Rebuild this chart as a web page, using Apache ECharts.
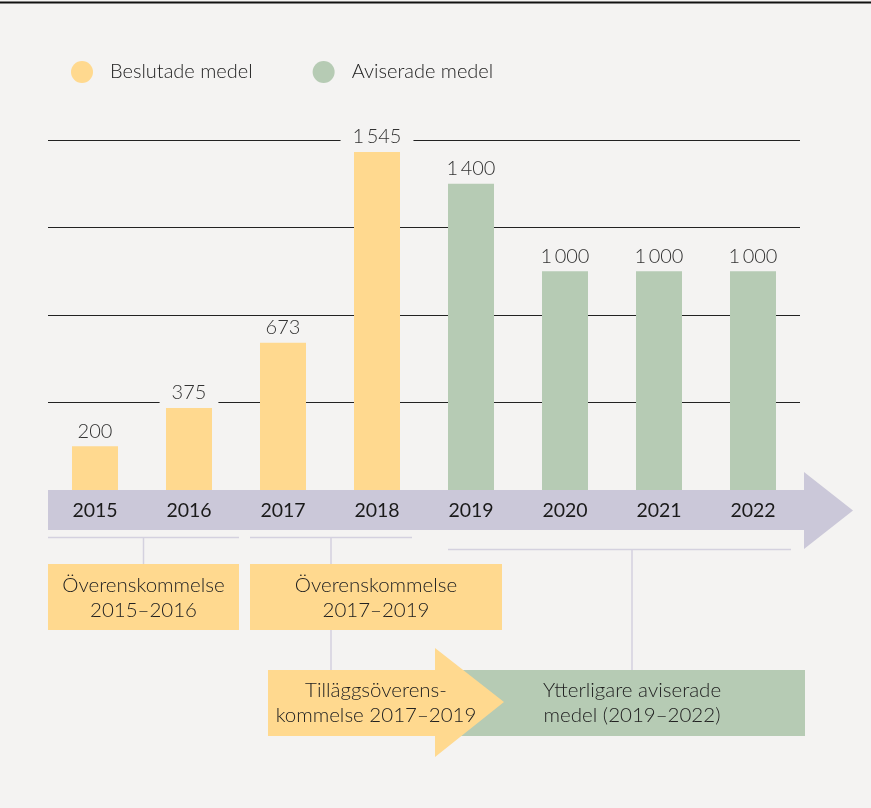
<!DOCTYPE html>
<html>
<head>
<meta charset="utf-8">
<script src="https://cdn.jsdelivr.net/npm/echarts@6/dist/echarts.min.js"></script>
<style>
html,body{margin:0;padding:0;background:#F4F3F2;}
#chart{width:871px;height:808px;}
</style>
</head>
<body>
<div id="chart"></div>
<script>
const years = ['2015','2016','2017','2018','2019','2020','2021','2022'];
const beslutade = [200, 375, 673, 1545, null, null, null, null];
const aviserade = [null, null, null, null, 1400, 1000, 1000, 1000];
const seriesNames = ['Beslutade medel', 'Aviserade medel'];
const yTicks = [0, 400, 800, 1200, 1600];

const BG = '#F4F3F2';
const YELLOW = '#FFD98F';
const GREEN = '#B6CBB4';
const LAV = '#CBC8D9';
const LINE = '#D4D1DF';
const FONT = 'Lato';
const TXT = '#222';

function fmt(v){
  const s = String(Math.round(v));
  return s.length > 3 ? s.slice(0, s.length-3) + '\u2009' + s.slice(-3) : s;
}

const labelCfg = {
  show: true, position: 'top', distance: 3,
  fontFamily: FONT, fontWeight: 300, fontSize: 20, color: '#333',
  backgroundColor: BG, padding: [0, 12, 2, 12],
  formatter: p => fmt(p.value)
};

const chart = echarts.init(document.getElementById('chart'), null, {renderer: 'canvas'});

const txtStyle = (t, x, y, extra) => Object.assign({
  type: 'text', z: 10,
  style: { text: t, x: x, y: y, fill: TXT, font: '300 20.5px ' + FONT,
    textAlign: 'center', textVerticalAlign: 'middle', lineHeight: 25 }
}, extra || {});

chart.setOption({
  backgroundColor: BG,
  animation: false,
  legend: {
    left: 66, top: 56,
    itemWidth: 22, itemHeight: 22, itemGap: 60,
    icon: 'circle',
    textStyle: { fontFamily: FONT, fontWeight: 300, fontSize: 20, color: TXT, padding: [0,0,0,12] },
    data: seriesNames
  },
  grid: { left: 48, right: 71, top: 140, bottom: 318, containLabel: false },
  xAxis: {
    type: 'category', data: years, z: 20,
    axisLine: { show: false }, axisTick: { show: false },
    axisLabel: { margin: 11, fontFamily: FONT, fontWeight: 400, fontSize: 19.5, color: '#1a1a1a' }
  },
  yAxis: {
    type: 'value', min: yTicks[0], max: yTicks[yTicks.length-1], interval: yTicks[1]-yTicks[0],
    axisLine: { show: false }, axisTick: { show: false }, axisLabel: { show: false },
    splitLine: { show: true, lineStyle: { color: '#222', width: 1 } }
  },
  series: [
    { name: seriesNames[0], type: 'bar', stack: 'a', barWidth: 46, data: beslutade,
      itemStyle: { color: YELLOW }, label: labelCfg, z: 3 },
    { name: seriesNames[1], type: 'bar', stack: 'a', barWidth: 46, data: aviserade,
      itemStyle: { color: GREEN }, label: labelCfg, z: 3 }
  ],
  graphic: [
    { type: 'line', z: 10, shape: {x1: 0, y1: 2.5, x2: 871, y2: 2.5}, style: {stroke: '#111', lineWidth: 2} },
    { type: 'polygon', z: 5, shape: { points: [[48,490],[804,490],[804,472],[853,510.5],[804,549],[804,530],[48,530]] },
      style: { fill: LAV } },
    // brackets
    { type: 'line', z: 5, shape: {x1: 48, y1: 537.5, x2: 239, y2: 537.5}, style: {stroke: LINE, lineWidth: 1.5} },
    { type: 'line', z: 5, shape: {x1: 143.5, y1: 537, x2: 143.5, y2: 564}, style: {stroke: LINE, lineWidth: 1.5} },
    { type: 'line', z: 5, shape: {x1: 250, y1: 537.5, x2: 412, y2: 537.5}, style: {stroke: LINE, lineWidth: 1.5} },
    { type: 'line', z: 5, shape: {x1: 331, y1: 537, x2: 331, y2: 670}, style: {stroke: LINE, lineWidth: 1.5} },
    { type: 'line', z: 5, shape: {x1: 448, y1: 549.5, x2: 791, y2: 549.5}, style: {stroke: LINE, lineWidth: 1.5} },
    { type: 'line', z: 5, shape: {x1: 632, y1: 549, x2: 632, y2: 670}, style: {stroke: LINE, lineWidth: 1.5} },
    // boxes
    { type: 'rect', z: 6, shape: {x: 48, y: 564, width: 191, height: 66}, style: {fill: YELLOW} },
    { type: 'rect', z: 6, shape: {x: 250, y: 564, width: 252, height: 66}, style: {fill: YELLOW} },
    txtStyle('Överenskommelse\n2015–2016', 143.5, 598),
    txtStyle('Överenskommelse\n2017–2019', 376, 598),
    { type: 'rect', z: 6, shape: {x: 460, y: 670, width: 345, height: 66}, style: {fill: GREEN} },
    { type: 'polygon', z: 7, shape: { points: [[268,670],[435,670],[435,648],[504,702],[435,757],[435,736],[268,736]] },
      style: { fill: YELLOW } },
    txtStyle('Tilläggsöverens-\nkommelse 2017–2019', 376, 703),
    txtStyle('Ytterligare aviserade\nmedel (2019–2022)', 632, 703)
  ]
});
</script>
</body>
</html>
